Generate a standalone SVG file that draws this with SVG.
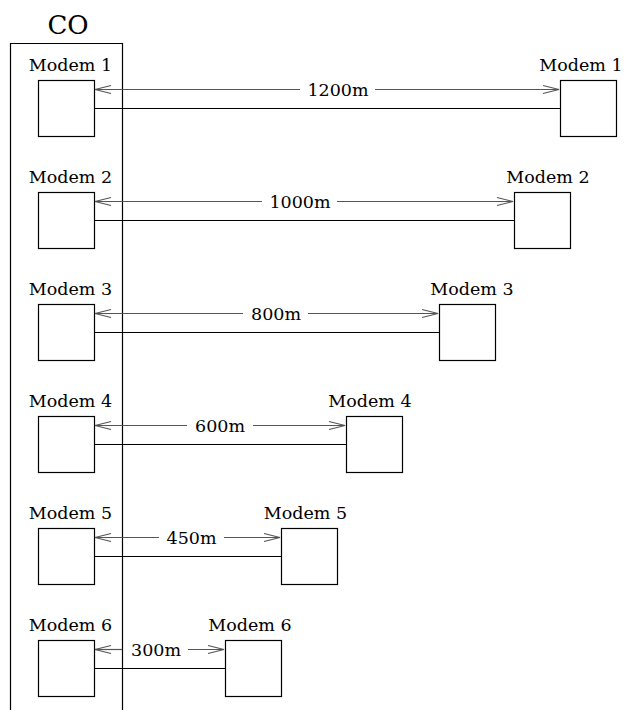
<svg xmlns="http://www.w3.org/2000/svg" width="626" height="710" viewBox="0 0 626 710">
<style>
text{fill:#000;font-family:'DejaVu Serif',serif}
.lbl{font-size:17.5px;text-anchor:middle}
.dist{font-size:17.5px;text-anchor:middle}
.box{fill:#fff;stroke:#000;stroke-width:1.2}
.wire{stroke:#000;stroke-width:1.2;fill:none}
.dim{stroke:#555;stroke-width:1.2;fill:none;marker-end:url(#ah)}
</style>
<defs>
<marker id="ah" markerUnits="userSpaceOnUse" markerWidth="20" markerHeight="12" viewBox="-17 -6 18 12" refX="0" refY="0" orient="auto" overflow="visible">
<path d="M-16,-4 L0,0 L-16,4" fill="none" stroke="#555" stroke-width="1.2"/>
</marker>
</defs>
<g id="co">
<path d="M10.5,710 L10.5,43.5 L122.5,43.5 L122.5,710" fill="none" stroke="#000" stroke-width="1.2"/>
<text x="68" y="34" style="font-size:26px" text-anchor="middle">CO</text>
</g>
<g id="connectors">
<line class="wire" x1="94" y1="108.5" x2="560" y2="108.5"/>
<line class="dim" x1="300" y1="89.5" x2="95" y2="89.5"/>
<line class="dim" x1="375" y1="89.5" x2="559" y2="89.5"/>
<text class="dist" x="338" y="96">1200m</text>

<line class="wire" x1="94" y1="220.5" x2="514" y2="220.5"/>
<line class="dim" x1="262" y1="201.5" x2="95" y2="201.5"/>
<line class="dim" x1="337" y1="201.5" x2="513" y2="201.5"/>
<text class="dist" x="300" y="208">1000m</text>

<line class="wire" x1="94" y1="332.5" x2="439" y2="332.5"/>
<line class="dim" x1="243" y1="313.5" x2="95" y2="313.5"/>
<line class="dim" x1="308" y1="313.5" x2="438" y2="313.5"/>
<text class="dist" x="276" y="320">800m</text>

<line class="wire" x1="94" y1="444.5" x2="346" y2="444.5"/>
<line class="dim" x1="187" y1="425.5" x2="95" y2="425.5"/>
<line class="dim" x1="253" y1="425.5" x2="345" y2="425.5"/>
<text class="dist" x="220" y="432">600m</text>

<line class="wire" x1="94" y1="556.5" x2="281" y2="556.5"/>
<line class="dim" x1="159" y1="537.5" x2="95" y2="537.5"/>
<line class="dim" x1="224" y1="537.5" x2="280" y2="537.5"/>
<text class="dist" x="191.5" y="544">450m</text>

<line class="wire" x1="94" y1="668.5" x2="225" y2="668.5"/>
<line class="dim" x1="122" y1="649.5" x2="95" y2="649.5"/>
<line class="dim" x1="188" y1="649.5" x2="224" y2="649.5"/>
<text class="dist" x="156" y="656">300m</text>
</g>
<g id="modem1-co"><text class="lbl" x="70.5" y="71">Modem 1</text><rect class="box" x="38.5" y="80.5" width="56" height="56"/></g>
<g id="modem1-remote"><text class="lbl" x="581" y="71">Modem 1</text><rect class="box" x="560.5" y="80.5" width="56" height="56"/></g>
<g id="modem2-co"><text class="lbl" x="70.5" y="183">Modem 2</text><rect class="box" x="38.5" y="192.5" width="56" height="56"/></g>
<g id="modem2-remote"><text class="lbl" x="548" y="183">Modem 2</text><rect class="box" x="514.5" y="192.5" width="56" height="56"/></g>
<g id="modem3-co"><text class="lbl" x="70.5" y="295">Modem 3</text><rect class="box" x="38.5" y="304.5" width="56" height="56"/></g>
<g id="modem3-remote"><text class="lbl" x="472" y="295">Modem 3</text><rect class="box" x="439.5" y="304.5" width="56" height="56"/></g>
<g id="modem4-co"><text class="lbl" x="70.5" y="407">Modem 4</text><rect class="box" x="38.5" y="416.5" width="56" height="56"/></g>
<g id="modem4-remote"><text class="lbl" x="370" y="407">Modem 4</text><rect class="box" x="346.5" y="416.5" width="56" height="56"/></g>
<g id="modem5-co"><text class="lbl" x="70.5" y="519">Modem 5</text><rect class="box" x="38.5" y="528.5" width="56" height="56"/></g>
<g id="modem5-remote"><text class="lbl" x="305.5" y="519">Modem 5</text><rect class="box" x="281.5" y="528.5" width="56" height="56"/></g>
<g id="modem6-co"><text class="lbl" x="70.5" y="631">Modem 6</text><rect class="box" x="38.5" y="640.5" width="56" height="56"/></g>
<g id="modem6-remote"><text class="lbl" x="250" y="631">Modem 6</text><rect class="box" x="225.5" y="640.5" width="56" height="56"/></g>
</svg>
